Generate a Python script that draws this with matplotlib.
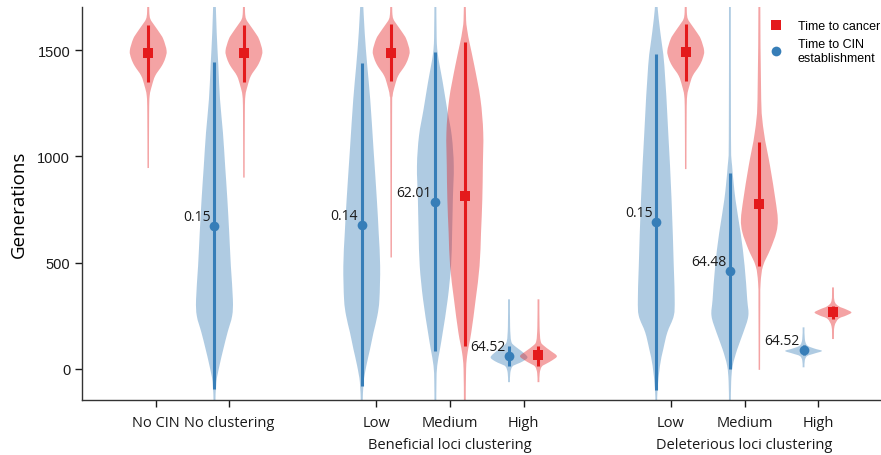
import numpy as np
import matplotlib
matplotlib.use("Agg")
import matplotlib.pyplot as plt
from matplotlib.lines import Line2D
from matplotlib.path import Path
from matplotlib.patches import PathPatch

BLUE = "#377eb8"
RED = "#e41a1c"
TXT = "#1a1a1a"
MAXW = 0.25      # half width of the widest violin (x units)
HUMAN = ["Open Sans", "DejaVu Sans"]
ARIAL = ["Liberation Sans", "DejaVu Sans"]

tick_pos = [0, 1, 3, 4, 5, 7, 8, 9]
tick_labels = ["No CIN", "No clustering", "Low", "Medium", "High",
               "Low", "Medium", "High"]
group_pos = [4, 8]
group_labels = ["Beneficial loci clustering", "Deleterious loci clustering"]

# time to CIN establishment (blue)
cin_pos = [0.8, 2.8, 3.8, 4.8, 6.8, 7.8, 8.8]
cin_mid = [673, 678, 787, 60, 689, 460, 88]
cin_lo = [-94, -81, 84, 13, -100, 0, 64]
cin_hi = [1445, 1439, 1489, 108, 1481, 921, 110]
cin_text = ["0.15", "0.14", "62.01", "64.52", "0.15", "64.48", "64.52"]
cin_shape_y = [
    [1750, 1584, 1426, 1269, 1112, 955, 798, 641, 484, 327, 249, 171, 92, 14, -63, -160],
    [1750, 1584, 1426, 1269, 1034, 798, 641, 484, 327, 250, 171, 92, 14, -64, -160],
    [1750, 1560, 1489, 1420, 1349, 1222, 1096, 955, 798, 641, 484, 327, 171, 92, 14, -60, -160],
    [327, 200, 130, 108, 85, 55, 35, 23, 10, -20, -63],
    [1750, 1693, 1584, 1426, 1112, 798, 484, 327, 249, 171, 92, 14, -95, -160],
    [1750, 1080, 955, 798, 641, 484, 327, 249, 171, 92, 14, -60, -160],
    [195, 140, 110, 95, 84, 72, 60, 40, 7],
]
cin_shape_w = [
    [0.06, 0.12, 0.21, 0.3, 0.46, 0.58, 0.7, 0.8, 0.89, 1.0, 0.96, 0.71, 0.48, 0.27, 0.1, 0.05],
    [0.06, 0.16, 0.3, 0.46, 0.64, 0.82, 0.92, 1.0, 0.96, 0.85, 0.64, 0.45, 0.25, 0.1, 0.05],
    [0.05, 0.07, 0.12, 0.25, 0.4, 0.64, 0.89, 1.0, 0.95, 0.91, 0.85, 0.67, 0.4, 0.25, 0.1, 0.06, 0.05],
    [0.05, 0.06, 0.12, 0.3, 0.65, 1.0, 0.75, 0.45, 0.18, 0.07, 0.05],
    [0.06, 0.08, 0.22, 0.44, 0.65, 0.83, 0.95, 1.0, 0.95, 0.6, 0.38, 0.2, 0.07, 0.05],
    [0.05, 0.06, 0.12, 0.3, 0.58, 0.8, 0.94, 1.0, 0.73, 0.4, 0.15, 0.07, 0.05],
    [0.05, 0.07, 0.2, 0.6, 1.0, 0.6, 0.2, 0.07, 0.05],
]

# time to cancer (red)
cancer_pos = [-0.1, 1.2, 3.2, 4.2, 5.2, 7.2, 8.2, 9.2]
cancer_mid = [1485, 1486, 1486, 813, 64, 1490, 775, 265]
cancer_lo = [1351, 1351, 1355, 107, 14, 1355, 484, 235]
cancer_hi = [1618, 1618, 1622, 1536, 107, 1622, 1066, 296]
cancer_shape_y = [
    [1750, 1680, 1646, 1615, 1584, 1552, 1497, 1460, 1426, 1379, 1332, 1285, 1200, 945],
    [1750, 1680, 1646, 1615, 1584, 1552, 1497, 1460, 1426, 1379, 1332, 1285, 1200, 900],
    [1750, 1680, 1646, 1615, 1584, 1552, 1497, 1460, 1426, 1379, 1332, 1285, 1200, 524],
    [1750, 1640, 1584, 1537, 1426, 1269, 1112, 955, 798, 641, 484, 327, 171, 76, 0, -160],
    [327, 200, 130, 108, 85, 60, 40, 25, 10, -20, -63],
    [1750, 1680, 1646, 1615, 1584, 1552, 1497, 1460, 1426, 1379, 1332, 1285, 1200, 940],
    [1750, 1269, 1112, 955, 798, 704, 641, 563, 484, 406, 300, -5],
    [383, 320, 295, 280, 265, 250, 235, 200, 140],
]
cancer_shape_w = [
    [0.05, 0.06, 0.12, 0.35, 0.6, 0.82, 1.0, 0.92, 0.74, 0.38, 0.2, 0.08, 0.05, 0.04],
    [0.05, 0.06, 0.12, 0.35, 0.6, 0.82, 1.0, 0.92, 0.74, 0.38, 0.2, 0.08, 0.05, 0.04],
    [0.05, 0.06, 0.12, 0.35, 0.6, 0.82, 1.0, 0.92, 0.74, 0.38, 0.2, 0.08, 0.05, 0.04],
    [0.05, 0.07, 0.15, 0.25, 0.52, 0.85, 1.0, 0.98, 0.95, 0.88, 0.8, 0.59, 0.35, 0.15, 0.07, 0.05],
    [0.05, 0.06, 0.12, 0.3, 0.65, 1.0, 0.75, 0.45, 0.18, 0.07, 0.05],
    [0.05, 0.06, 0.12, 0.35, 0.6, 0.82, 1.0, 0.92, 0.74, 0.38, 0.2, 0.08, 0.05, 0.04],
    [0.05, 0.1, 0.25, 0.58, 0.87, 1.0, 0.92, 0.6, 0.2, 0.07, 0.05, 0.04],
    [0.05, 0.08, 0.3, 0.7, 1.0, 0.7, 0.3, 0.08, 0.05],
]


def smooth_side(pts):
    # Catmull-Rom knots -> cubic bezier path pieces
    verts, codes = [], []
    n = len(pts)
    for k in range(n - 1):
        p0 = pts[max(k - 1, 0)]
        p1 = pts[k]
        p2 = pts[k + 1]
        p3 = pts[min(k + 2, n - 1)]
        c1 = p1 + (p2 - p0) / 6.0
        c2 = p2 - (p3 - p1) / 6.0
        verts += [tuple(c1), tuple(c2), tuple(p2)]
        codes += [Path.CURVE4] * 3
    return verts, codes


def draw_violin(ax, x0, ys, ws, color):
    ys = np.asarray(ys, float)
    ws = np.asarray(ws, float) * MAXW
    right = np.column_stack([x0 + ws, ys])
    left = np.column_stack([x0 - ws, ys])[::-1]
    verts = [tuple(right[0])]
    codes = [Path.MOVETO]
    v, c = smooth_side(right)
    verts += v
    codes += c
    verts.append(tuple(left[0]))
    codes.append(Path.LINETO)
    v, c = smooth_side(left)
    verts += v
    codes += c
    verts.append(tuple(right[0]))
    codes.append(Path.CLOSEPOLY)
    ax.add_patch(PathPatch(Path(verts, codes), facecolor=color, alpha=0.4,
                           lw=0, zorder=1))


fig = plt.figure(figsize=(8.81, 4.56), dpi=100)
ax = fig.add_axes([0.093, 0.1206, 0.906, 0.8614])

for i in range(len(cin_pos)):
    draw_violin(ax, cin_pos[i], cin_shape_y[i], cin_shape_w[i], BLUE)
for i in range(len(cancer_pos)):
    draw_violin(ax, cancer_pos[i], cancer_shape_y[i], cancer_shape_w[i], RED)

for i in range(len(cin_pos)):
    ax.plot([cin_pos[i], cin_pos[i]], [cin_lo[i], cin_hi[i]], color=BLUE,
            lw=2.2, solid_capstyle="butt", zorder=3)
    ax.plot(cin_pos[i], cin_mid[i], "o", color=BLUE, ms=7, mew=0, zorder=4)
    ax.text(cin_pos[i] - 0.05, cin_mid[i] + 45, cin_text[i], ha="right",
            va="center", fontsize=10, family=HUMAN, color=TXT, zorder=5)
for i in range(len(cancer_pos)):
    ax.plot([cancer_pos[i], cancer_pos[i]], [cancer_lo[i], cancer_hi[i]],
            color=RED, lw=2.2, solid_capstyle="butt", zorder=3)
    ax.plot(cancer_pos[i], cancer_mid[i], "s", color=RED, ms=7, mew=0, zorder=4)

ax.set_xlim(-1.0, 9.84)
ax.set_ylim(-147, 1702)
ax.set_yticks([0, 500, 1000, 1500])
ax.set_xticks(tick_pos)
ax.set_xticklabels(tick_labels, family=HUMAN, fontsize=10.5)
for lab in ax.get_yticklabels():
    lab.set_family(ARIAL)
    lab.set_fontsize(10.5)
ax.set_ylabel("Generations", family=HUMAN, fontsize=13.5, labelpad=7)
ax.tick_params(colors=TXT, length=5, width=1)
ax.tick_params(axis="x", pad=5.5)
for s in ["top", "right"]:
    ax.spines[s].set_visible(False)
for s in ["left", "bottom"]:
    ax.spines[s].set_color("#333333")
    ax.spines[s].set_linewidth(1)

for gx, gl in zip(group_pos, group_labels):
    ax.text(gx, -0.113, gl, transform=ax.get_xaxis_transform(), ha="center",
            va="center", family=HUMAN, fontsize=10.5, color=TXT)

handles = [Line2D([], [], ls="none", marker="s", color=RED, ms=7, mew=0),
           Line2D([], [], ls="none", marker="o", color=BLUE, ms=7, mew=0)]
ax.legend(handles, ["Time to cancer", "Time to CIN\nestablishment"],
          loc="upper left", bbox_to_anchor=(758 / 881, 1 - 10 / 456),
          bbox_transform=fig.transFigure, frameon=False, handlelength=1,
          handletextpad=1.3, borderpad=0.4, labelspacing=0.45,
          prop={"family": ARIAL, "size": 9})

fig.savefig("out.png", dpi=100)
